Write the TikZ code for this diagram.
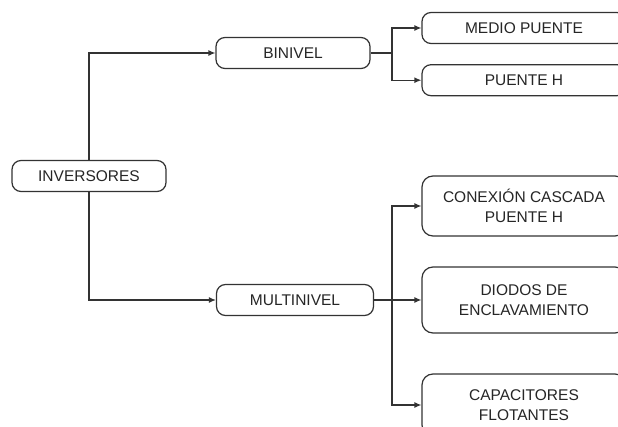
\documentclass[tikz,border=0pt]{standalone}
\usepackage{fontspec}
\setmainfont{Liberation Sans}
\usepackage{xcolor}
\usepackage{tikz}
\usetikzlibrary{positioning,arrows.meta}

\definecolor{linegray}{HTML}{333333}

\begin{document}
\begin{tikzpicture}[x=1pt, y=-1pt, font=\fontsize{15.5}{20}\selectfont,
  box/.style={draw=linegray, line width=1.2pt, rounded corners=9pt, align=center, inner sep=0pt, text=black!85},
  small/.style={box, minimum width=154pt, minimum height=31pt},
  wide/.style={box, minimum width=204pt, minimum height=31pt},
  tall/.style={box, minimum width=204pt, minimum height=62pt, rounded corners=11pt},
  link/.style={draw=linegray, line width=1.2pt, -{Latex[length=7pt,width=6pt]}}]
\clip (0,0) rectangle (618,427);
\fill[white] (0,0) rectangle (618,427);
\node[small] (inv) at (89,176) {INVERSORES};
\node[small] (bin) at (293,53) {BINIVEL};
\node[small, minimum width=157pt] (mul) at (295,300) {MULTINIVEL};
\node[wide] (medio) at (524,28) {MEDIO PUENTE};
\node[wide, below=20pt of medio] (puente) {PUENTE H};
\node[tall, minimum height=60pt] (casc) at (524,206) {CONEXIÓN CASCADA\\PUENTE H};
\node[tall, minimum height=66pt] (diod) at (524,300) {DIODOS DE\\ENCLAVAMIENTO};
\node[tall, minimum height=62pt] (capa) at (524,405) {CAPACITORES\\FLOTANTES};
\coordinate (fb) at (392,53);
\coordinate (fm) at (392,300);
\draw[link] (inv.north) |- (bin.west);
\draw[link] (inv.south) |- (mul.west);
\draw[draw=linegray, line width=1.2pt] (bin.east) -- (fb);
\draw[link] (fb) |- (medio.west);\draw[link] (fb) |- (puente.west);
\draw[link] (mul.east) -- (diod.west);
\draw[link] (fm) |- (casc.west);\draw[link] (fm) |- (capa.west);
\end{tikzpicture}
\end{document}
